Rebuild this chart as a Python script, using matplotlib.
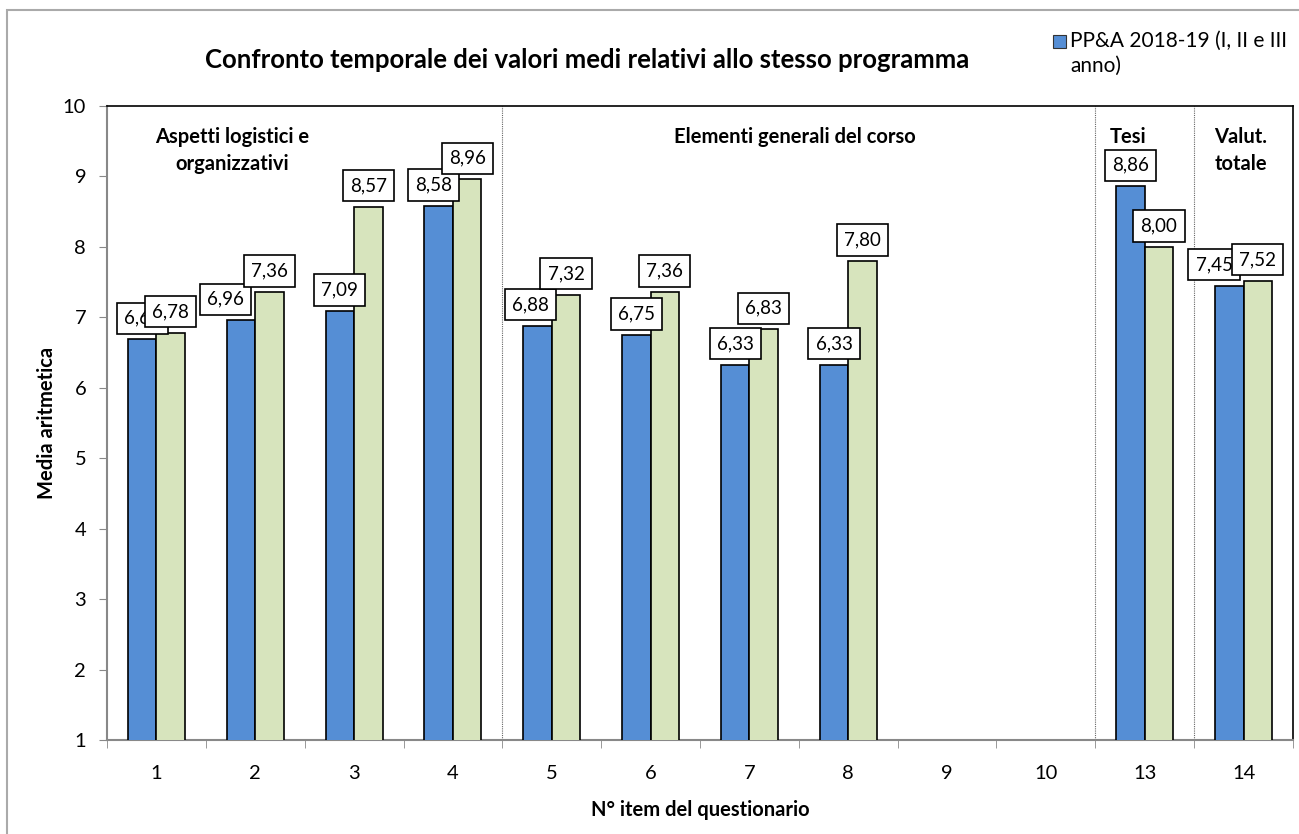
import numpy as np
import matplotlib.pyplot as plt
from matplotlib.patches import Rectangle

plt.rcParams['font.family'] = ['Lato', 'DejaVu Sans']

items = ["1", "2", "3", "4", "5", "6", "7", "8", "9", "10", "13", "14"]
serie_1819 = [6.69, 6.96, 7.09, 8.58, 6.88, 6.75, 6.33, 6.33, np.nan, np.nan, 8.86, 7.45]
serie_prec = [6.78, 7.36, 8.57, 8.96, 7.32, 7.36, 6.83, 7.80, np.nan, np.nan, 8.00, 7.52]
legend_label = "PP&A 2018-19 (I, II e III\nanno)"
sezioni = ["Aspetti logistici e\norganizzativi", "Elementi generali del corso", "Tesi", "Valut.\ntotale"]
sezioni_x = [0.77, 6.46, 9.83, 10.97]
separatori = [3.5, 9.5, 10.5]

# small horizontal nudges (points) of some blue labels, as in the original
shift_blu = [0, -11, 0, -4, -5, 0, 0, 0, 0, 0, 0, -11]

blu = "#558ED5"
verde = "#D7E4BD"
fs = 14.5

fig = plt.figure(figsize=(12.99, 8.34), dpi=100)
ax = fig.add_axes([107 / 1299, 1 - 740 / 834, 1186 / 1299, 634 / 834])

x = np.arange(len(items))
w = 0.288
ax.bar(x - w / 2, serie_1819, w, bottom=0, color=blu, edgecolor="black", linewidth=1.2, zorder=3)
ax.bar(x + w / 2, serie_prec, w, bottom=0, color=verde, edgecolor="black", linewidth=1.2, zorder=3)

box = dict(boxstyle="square,pad=0.38", facecolor="white", edgecolor="black", linewidth=1.2)
for i in range(len(items)):
    if not np.isnan(serie_1819[i]):
        ax.annotate(f"{serie_1819[i]:.2f}".replace(".", ","), (x[i] - w / 2, serie_1819[i]),
                    xytext=(shift_blu[i], 9), textcoords="offset points", ha="center", va="bottom",
                    fontsize=13.5, bbox=box, zorder=5)
for i in range(len(items)):
    if not np.isnan(serie_prec[i]):
        ax.annotate(f"{serie_prec[i]:.2f}".replace(".", ","), (x[i] + w / 2, serie_prec[i]),
                    xytext=(0, 9), textcoords="offset points", ha="center", va="bottom",
                    fontsize=13.5, bbox=box, zorder=6)

ax.set_xlim(-0.5, len(items) - 0.5)
ax.set_ylim(1, 10)
ax.set_yticks(range(1, 11))
ax.set_xticks(x)
ax.set_xticklabels(items)
ax.set_xticks(np.arange(-0.5, len(items)), minor=True)
ax.tick_params(axis="x", which="major", length=0, pad=18, labelsize=fs)
ax.tick_params(axis="x", which="minor", length=6, color="#888888")
ax.tick_params(axis="y", length=6, color="#888888", labelsize=fs, pad=9)

for s in ["left", "bottom"]:
    ax.spines[s].set_color("#888888")
    ax.spines[s].set_linewidth(1.5)
for s in ["top", "right"]:
    ax.spines[s].set_color("black")
    ax.spines[s].set_linewidth(1.2)

ax.vlines(separatori, 1, 10, colors="#666666", linestyles=(0, (1, 1)), linewidth=0.8, zorder=2)

for t, sx in zip(sezioni, sezioni_x):
    ax.text(sx, 9.7, t, ha="center", va="top", fontsize=fs, fontweight="bold", linespacing=1.4)

ax.set_ylabel("Media aritmetica", fontsize=fs, fontweight="bold", labelpad=4)
ax.set_xlabel("N° item del questionario", fontsize=fs, fontweight="bold", labelpad=13)

fig.text(587 / 1299, 1 - 60 / 834, "Confronto temporale dei valori medi relativi allo stesso programma",
         ha="center", va="center", fontsize=18.5, fontweight="bold")

# legend (only first series shown, as in the original)
fig.patches.append(Rectangle((1053 / 1299, 1 - 48 / 834), 13 / 1299, 13 / 834, transform=fig.transFigure,
                             facecolor=blu, edgecolor="#333333", linewidth=0.8))
fig.text(1070 / 1299, 1 - 31 / 834, legend_label, ha="left", va="top", fontsize=15, linespacing=1.3)

# outer chart border
fig.patches.append(Rectangle((7 / 1299, -0.05), 1.2, 1 - 10 / 834 + 0.05, transform=fig.transFigure,
                             facecolor="none", edgecolor="#AAAAAA", linewidth=1.5))

fig.savefig("out.png", dpi=100)
